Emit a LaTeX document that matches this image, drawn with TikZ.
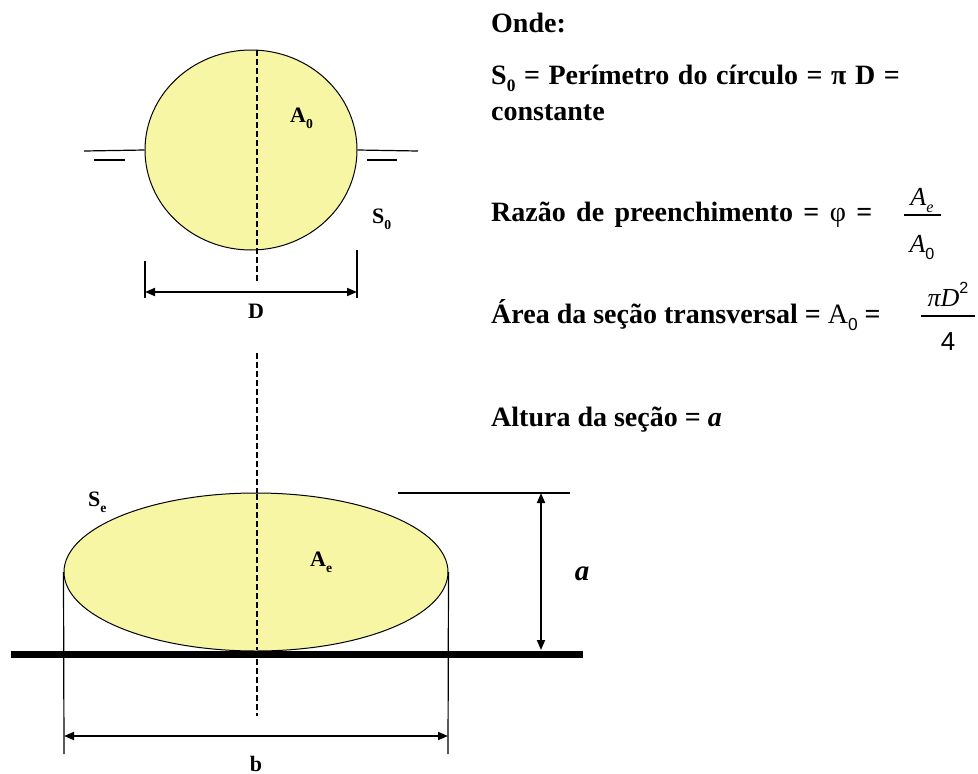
\documentclass[tikz,border=0pt]{standalone}
\usepackage{fontspec}
\setmainfont{Liberation Serif}
\newfontfamily\arialf{Liberation Sans}
\usetikzlibrary{arrows.meta,shapes.geometric}
\definecolor{fillyel}{RGB}{246,246,164}
\newcommand{\sbs}[1]{\raisebox{-0.28em}{\scalebox{0.62}{#1}}}
\newcommand{\sps}[1]{\raisebox{0.5em}{\scalebox{0.62}{#1}}}
\begin{document}
\begin{tikzpicture}[x=1pt,y=-1pt,
  txt/.style={font=\fontsize{28}{32}\selectfont\bfseries, inner sep=0pt, anchor=base west},
  lbl/.style={font=\fontsize{22}{24}\selectfont\bfseries, inner sep=0pt, anchor=base west},
  frc/.style={font=\fontsize{26}{28}\selectfont, inner sep=0pt, anchor=base},
  thinl/.style={line width=1.2pt},
  dimarrow/.style={line width=1.8pt, {Triangle[length=10pt,width=8pt]}-{Triangle[length=10pt,width=8pt]}},
  axisl/.style={line width=2.5pt, dash pattern=on 6pt off 3pt},
  shapefill/.style={fill=fillyel, draw=black, line width=1pt, inner sep=0pt}]
\useasboundingbox (0,0) rectangle (978,774);
\fill[white] (0,0) rectangle (978,774);

% ---------- top: circle ----------
\node[shapefill, ellipse, minimum width=212pt, minimum height=200pt] (circ) at (251,150) {};
\draw[axisl] (257,50) coordinate (ax1a) -- (257,283) coordinate (ax1b);
% water level lines
\draw[thinl] (84,151) coordinate (wl1) -- (circ.west);
\draw[thinl] (94,160) coordinate (wl2) -- (125,160) coordinate (wl3);
\draw[thinl] (circ.east) -- (418,151) coordinate (wr1);
\draw[thinl] (367,160) coordinate (wr2) -- (397,160) coordinate (wr3);
\node[lbl] (A0) at (290,122) {A\sbs{0}};
\node[lbl] (S0) at (372,223) {S\sbs{0}};
% D dimension
\coordinate (dl1) at (145,261); \coordinate (dl2) at (145,298);
\coordinate (dr1) at (357,250); \coordinate (dr2) at (357,298);
\draw[thinl] (dl1) -- (dl2);
\draw[thinl] (dr1) -- (dr2);
\coordinate (da) at (145,292); \coordinate (db) at (357,292);
\draw[dimarrow] (da) -- (db);
\node[lbl, anchor=base] (Dl) at (256,318) {D};

% ---------- bottom: flattened section ----------
\draw[axisl] (257,353) coordinate (ax2a) -- (257,716) coordinate (ax2b);
\node[shapefill, ellipse, minimum width=384pt, minimum height=158pt] (lens) at (256,572) {};
\draw[axisl] (257,494) -- (257,650);
\draw[line width=7pt] (11,654) coordinate (g1) -- (583,654) coordinate (g2);
\coordinate (bl1) at (64,571); \coordinate (bl2) at (64,754);
\coordinate (br1) at (448,571); \coordinate (br2) at (448,754);
\draw[thinl] (lens.west) -- (bl2);
\draw[thinl] (lens.east) -- (br2);
\coordinate (ba) at (64,736); \coordinate (bb) at (448,736);
\draw[dimarrow] (ba) -- (bb);
\node[lbl, anchor=base] (bl) at (256,771) {b};
\node[lbl] (Se) at (88,506) {S\sbs{e}};
\node[lbl] (Ae) at (310,566) {A\sbs{e}};
% a dimension
\coordinate (t1) at (398,493); \coordinate (t2) at (570,493);
\draw[thinl] (t1) -- (t2);
\coordinate (aa) at (541,493); \coordinate (ab) at (541,650);
\draw[dimarrow] (aa) -- (ab);
\node[font=\fontsize{29}{30}\selectfont\bfseries\itshape, inner sep=0pt, anchor=base] (al) at (582,580) {a};

% ---------- text ----------
\node[txt] (onde) at (491,32) {Onde:};
\node[txt] (l1) at (491,84) {\spaceskip=8.6pt S\sbs{0} = Perímetro do círculo = π D =};
\node[txt] (l2) at (491,120) {constante};
\node[txt] (l3) at (491,221) {\spaceskip=10.4pt Razão de preenchimento = {\mdseries φ} =};
\node[frc] (f1n) at (922,205) {\itshape A\sbs{e}};
\draw[thinl] (904,215) -- (941,215);
\node[frc] (f1d) at (922,252) {\itshape A\sbs{\arialf\upshape 0}};
\node[txt] (l4) at (491,323) {Área da seção transversal = {\mdseries A\sbs{\arialf 0}} =};
\node[frc] (f2n) at (948,306) {{\itshape πD}\sps{\arialf 2}};
\draw[thinl] (921,316) -- (975,316);
\node[frc] (f2d) at (948,350) {\arialf 4};
\node[txt] (l5) at (491,426) {Altura da seção = {\itshape a}};
\end{tikzpicture}
\end{document}
